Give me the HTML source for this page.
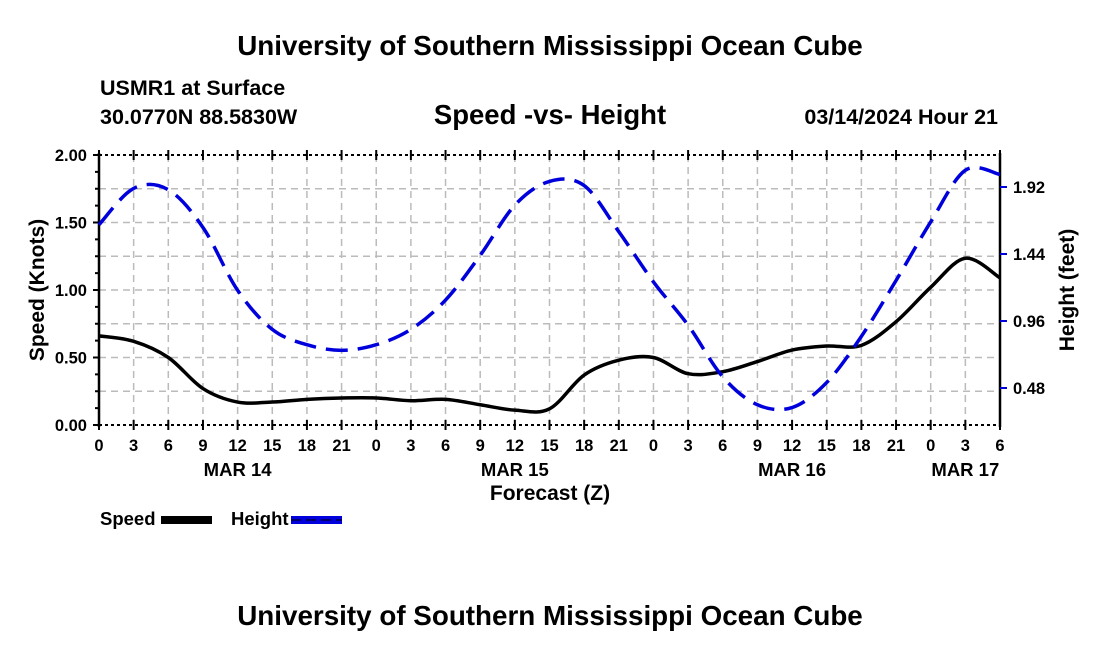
<!DOCTYPE html>
<html><head><meta charset="utf-8"><style>
body{margin:0;background:#fff;width:1100px;height:650px;overflow:hidden}
svg{display:block;font-family:"Liberation Sans",sans-serif;font-weight:bold}
</style></head><body>
<svg id="chart" width="1100" height="650">
<text x="550" y="55" text-anchor="middle" font-size="27.8">University of Southern Mississippi Ocean Cube</text>
<text x="100" y="95" font-size="21.5">USMR1 at Surface</text>
<text x="100" y="124" font-size="21.5">30.0770N  88.5830W</text>
<text x="550" y="124" text-anchor="middle" font-size="27.5">Speed -vs- Height</text>
<text x="998" y="124" text-anchor="end" font-size="21.5">03/14/2024 Hour 21</text>
<g id="grid"></g><g id="axes"></g><g id="series"></g>
<text x="550" y="500" text-anchor="middle" font-size="21">Forecast (Z)</text>
<text transform="translate(44,290) rotate(-90)" text-anchor="middle" font-size="21">Speed (Knots)</text>
<text transform="translate(1074,290) rotate(-90)" text-anchor="middle" font-size="21">Height (feet)</text>
<g><text x="100" y="525" font-size="18.5">Speed</text><rect x="161" y="516" width="51" height="8" fill="#000"/></g>
<g><text x="231" y="525" font-size="18.5">Height</text><rect x="291" y="516" width="51" height="8" fill="#0000dd"/><line x1="291" y1="520" x2="342" y2="520" stroke="#000" stroke-width="1" stroke-dasharray="10 5"/></g>
<text x="550" y="625" text-anchor="middle" font-size="27.8">University of Southern Mississippi Ocean Cube</text>
</svg>
<script>
const hours=[0,3,6,9,12,15,18,21,24,27,30,33,36,39,42,45,48,51,54,57,60,63,66,69,72,75,78];
const speed=[0.66,0.62,0.50,0.27,0.17,0.17,0.19,0.20,0.20,0.18,0.19,0.15,0.11,0.12,0.37,0.48,0.50,0.38,0.395,0.47,0.555,0.585,0.59,0.765,1.02,1.235,1.09];
const height=[1.65,1.91,1.90,1.63,1.18,0.90,0.79,0.75,0.79,0.90,1.11,1.43,1.79,1.96,1.93,1.60,1.24,0.93,0.56,0.36,0.34,0.52,0.85,1.25,1.67,2.04,2.01];
const xTickLabels=["0","3","6","9","12","15","18","21","0","3","6","9","12","15","18","21","0","3","6","9","12","15","18","21","0","3","6"];
const dayLabels=["MAR 14","MAR 15","MAR 16","MAR 17"];
const dayLabelHours=[12,36,60,75];
const speedTicks=["0.00","0.50","1.00","1.50","2.00"];
const heightTicks=["0.48","0.96","1.44","1.92"];
const X0=99,X1=1000,YT=155,YB=425;
const x=h=>X0+(h/78)*(X1-X0);
const yS=v=>YB-(v/2)*(YB-YT);
const yH=v=>455-v*(67/0.48);
const NS="http://www.w3.org/2000/svg";
function mk(tag,attrs,parent){const e=document.createElementNS(NS,tag);for(const k in attrs)e.setAttribute(k,attrs[k]);parent.appendChild(e);return e;}
const grid=document.getElementById('grid'),axes=document.getElementById('axes'),series=document.getElementById('series');
for(let i=1;i<26;i++){const l=mk('line',{x1:x(i*3),x2:x(i*3),y1:YT,y2:YB,stroke:'#bbb','stroke-width':1.5,'stroke-dasharray':'7 5'},grid);

}
for(let v=0.25;v<2;v+=0.25){const l=mk('line',{x1:X0,x2:X1,y1:yS(v),y2:yS(v),stroke:'#bbb','stroke-width':1.5,'stroke-dasharray':'7 5'},grid);

}
mk('line',{x1:X0,x2:X1,y1:YT,y2:YT,stroke:'#000','stroke-width':2,'stroke-dasharray':'3 3'},axes);
mk('line',{x1:X0,x2:X1,y1:YB,y2:YB,stroke:'#000','stroke-width':2,'stroke-dasharray':'3 3'},axes);
mk('line',{x1:X0,x2:X0,y1:YT-2,y2:YB+2,stroke:'#000','stroke-width':2.5},axes);
mk('line',{x1:X1,x2:X1,y1:YT-2,y2:YB+2,stroke:'#000','stroke-width':2.5},axes);
hours.forEach((h,i)=>{mk('line',{x1:x(h),x2:x(h),y1:YB-5,y2:YB+5,stroke:'#000','stroke-width':2},axes);
mk('line',{x1:x(h),x2:x(h),y1:YT-5,y2:YT+5,stroke:'#000','stroke-width':2},axes);
const t=mk('text',{x:x(h),y:YB+26,'text-anchor':'middle','font-size':16.5},axes);t.textContent=xTickLabels[i];

});
dayLabels.forEach((d,i)=>{const t=mk('text',{x:x(dayLabelHours[i]),y:YB+51,'text-anchor':'middle','font-size':18.5},axes);t.textContent=d;

});
for(let v=0;v<=2.001;v+=0.125){mk('line',{x1:X0-(Math.abs(v*2-Math.round(v*2))<0.01?6:4),x2:X0,y1:yS(v),y2:yS(v),stroke:'#000','stroke-width':2},axes);}
speedTicks.forEach(s=>{const t=mk('text',{x:X0-12,y:yS(+s)+6,'text-anchor':'end','font-size':16.5},axes);t.textContent=s;

});
heightTicks.forEach(s=>{mk('line',{x1:X1,x2:X1+7,y1:yH(+s),y2:yH(+s),stroke:'#0000dd','stroke-width':2},axes);
const t=mk('text',{x:X1+13,y:yH(+s)+6,'font-size':16.5},axes);t.textContent=s;

});
function smooth(pts){let d=`M${pts[0][0]},${pts[0][1]}`;for(let i=0;i<pts.length-1;i++){const p0=pts[Math.max(0,i-1)],p1=pts[i],p2=pts[i+1],p3=pts[Math.min(pts.length-1,i+2)];
d+=` C${p1[0]+(p2[0]-p0[0])/6},${p1[1]+(p2[1]-p0[1])/6} ${p2[0]-(p3[0]-p1[0])/6},${p2[1]-(p3[1]-p1[1])/6} ${p2[0]},${p2[1]}`;}return d;}
const sp=mk('path',{d:smooth(hours.map((h,i)=>[x(h),yS(speed[i])])),fill:'none',stroke:'#000','stroke-width':3.5},series);


const hp=mk('path',{d:smooth(hours.map((h,i)=>[x(h),yH(height[i])])),fill:'none',stroke:'#0000dd','stroke-width':3.5,'stroke-dasharray':'22 10'},series);


</script>
</body></html>
